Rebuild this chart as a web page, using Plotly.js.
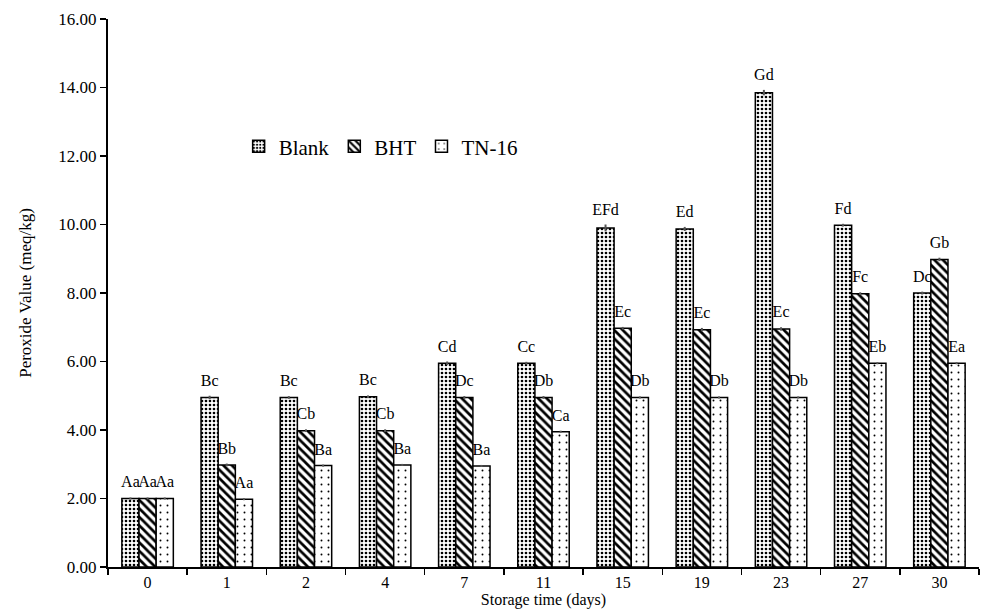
<!DOCTYPE html>
<html>
<head>
<meta charset="utf-8">
<script src="https://cdn.plot.ly/plotly-3.0.1.min.js"></script>
<style>html,body{margin:0;padding:0;background:#fff;}#chart{width:982px;height:609px;}</style>
</head>
<body>
<div id="chart"></div>
<script>
const days = ['0','1','2','4','7','11','15','19','23','27','30'];
const blank = [2.00, 4.95, 4.95, 4.97, 5.95, 5.95, 9.90, 9.87, 13.85, 9.98, 8.00];
const bht   = [2.00, 2.98, 3.98, 3.98, 4.95, 4.95, 6.97, 6.93, 6.95, 7.98, 8.98];
const tn16  = [2.00, 1.98, 2.96, 2.98, 2.95, 3.95, 4.95, 4.95, 4.95, 5.95, 5.95];
const blankErr = [0.03, 0.05, 0.04, 0.04, 0.05, 0.04, 0.10, 0.06, 0.08, 0.04, 0.04];
const bhtErr   = [0.03, 0.04, 0.04, 0.04, 0.04, 0.04, 0.04, 0.05, 0.05, 0.04, 0.05];
const tn16Err  = [0.03, 0.03, 0.03, 0.03, 0.03, 0.03, 0.03, 0.03, 0.03, 0.03, 0.03];
const blankLbl = ['Aa','Bc','Bc','Bc','Cd','Cc','EFd','Ed','Gd','Fd','Dc'];
const bhtLbl   = ['Aa','Bb','Cb','Cb','Dc','Db','Ec','Ec','Ec','Fc','Gb'];
const tn16Lbl  = ['Aa','Aa','Ba','Ba','Ba','Ca','Db','Db','Db','Eb','Ea'];

const serif = 'Liberation Serif';

function barTrace(name, y, err, pattern) {
  return {
    type: 'bar', name: name, x: days, y: y,
    marker: {color: 'white', line: {color: 'black', width: 1.5}, pattern: pattern},
    error_y: {type: 'data', array: err, visible: true, color: '#555', thickness: 2, width: 0}
  };
}
function textTrace(name, y, err, lbl) {
  return {
    type: 'scatter', mode: 'markers+text', x: days,
    y: y.map((v, i) => v + err[i]), text: lbl, textposition: 'top center',
    marker: {size: 8, color: 'rgba(0,0,0,0)'},
    textfont: {family: serif, size: 16, color: 'black'},
    showlegend: false, hoverinfo: 'skip', cliponaxis: false, name: name + ' lbl'
  };
}

const data = [
  barTrace('Blank', blank, blankErr, {shape: '.', size: 4, solidity: 0.35, fgcolor: 'black', bgcolor: 'white'}),
  barTrace('BHT', bht, bhtErr, {shape: '\\', size: 6, solidity: 0.45, fgcolor: 'black', bgcolor: 'white'}),
  barTrace('TN-16', tn16, tn16Err, {shape: '.', size: 7, solidity: 0.06, fgcolor: 'black', bgcolor: 'white'}),
  textTrace('Blank', blank, blankErr, blankLbl),
  textTrace('BHT', bht, bhtErr, bhtLbl),
  textTrace('TN-16', tn16, tn16Err, tn16Lbl)
];

const layout = {
  width: 982, height: 609,
  margin: {l: 108, r: 3, t: 19, b: 42},
  paper_bgcolor: 'white', plot_bgcolor: 'white',
  barmode: 'group', bargap: 0.35, bargroupgap: 0,
  scattermode: 'group', scattergap: 0.35,
  font: {family: serif, size: 16, color: 'black'},
  showlegend: true,
  legend: {orientation: 'h', x: 0.15, y: 0.767, xanchor: 'left', yanchor: 'middle',
           font: {family: serif, size: 21, color: 'black'}, bgcolor: 'rgba(0,0,0,0)',
           itemwidth: 30, tracegroupgap: 0},
  xaxis: {
    type: 'category', showline: true, linecolor: 'black', linewidth: 2,
    ticks: 'outside', tickson: 'boundaries', ticklen: 6, tickcolor: 'black', tickwidth: 1.5,
    showgrid: false, zeroline: false,
    tickfont: {family: serif, size: 16, color: 'black'},
    title: {text: 'Storage time (days)', font: {family: serif, size: 16, color: 'black'}, standoff: 2}
  },
  yaxis: {
    range: [0, 16], dtick: 2, tickformat: '.2f',
    showline: true, linecolor: 'black', linewidth: 2,
    ticks: 'outside', ticklen: 6, tickcolor: 'black', tickwidth: 1.5,
    showgrid: false, zeroline: false,
    tickfont: {family: serif, size: 17, color: 'black'},
    title: {text: 'Peroxide Value (meq/kg)', font: {family: serif, size: 17, color: 'black'}, standoff: 22}
  }
};

Plotly.newPlot('chart', data, layout, {displayModeBar: false, staticPlot: true});
</script>
</body>
</html>
